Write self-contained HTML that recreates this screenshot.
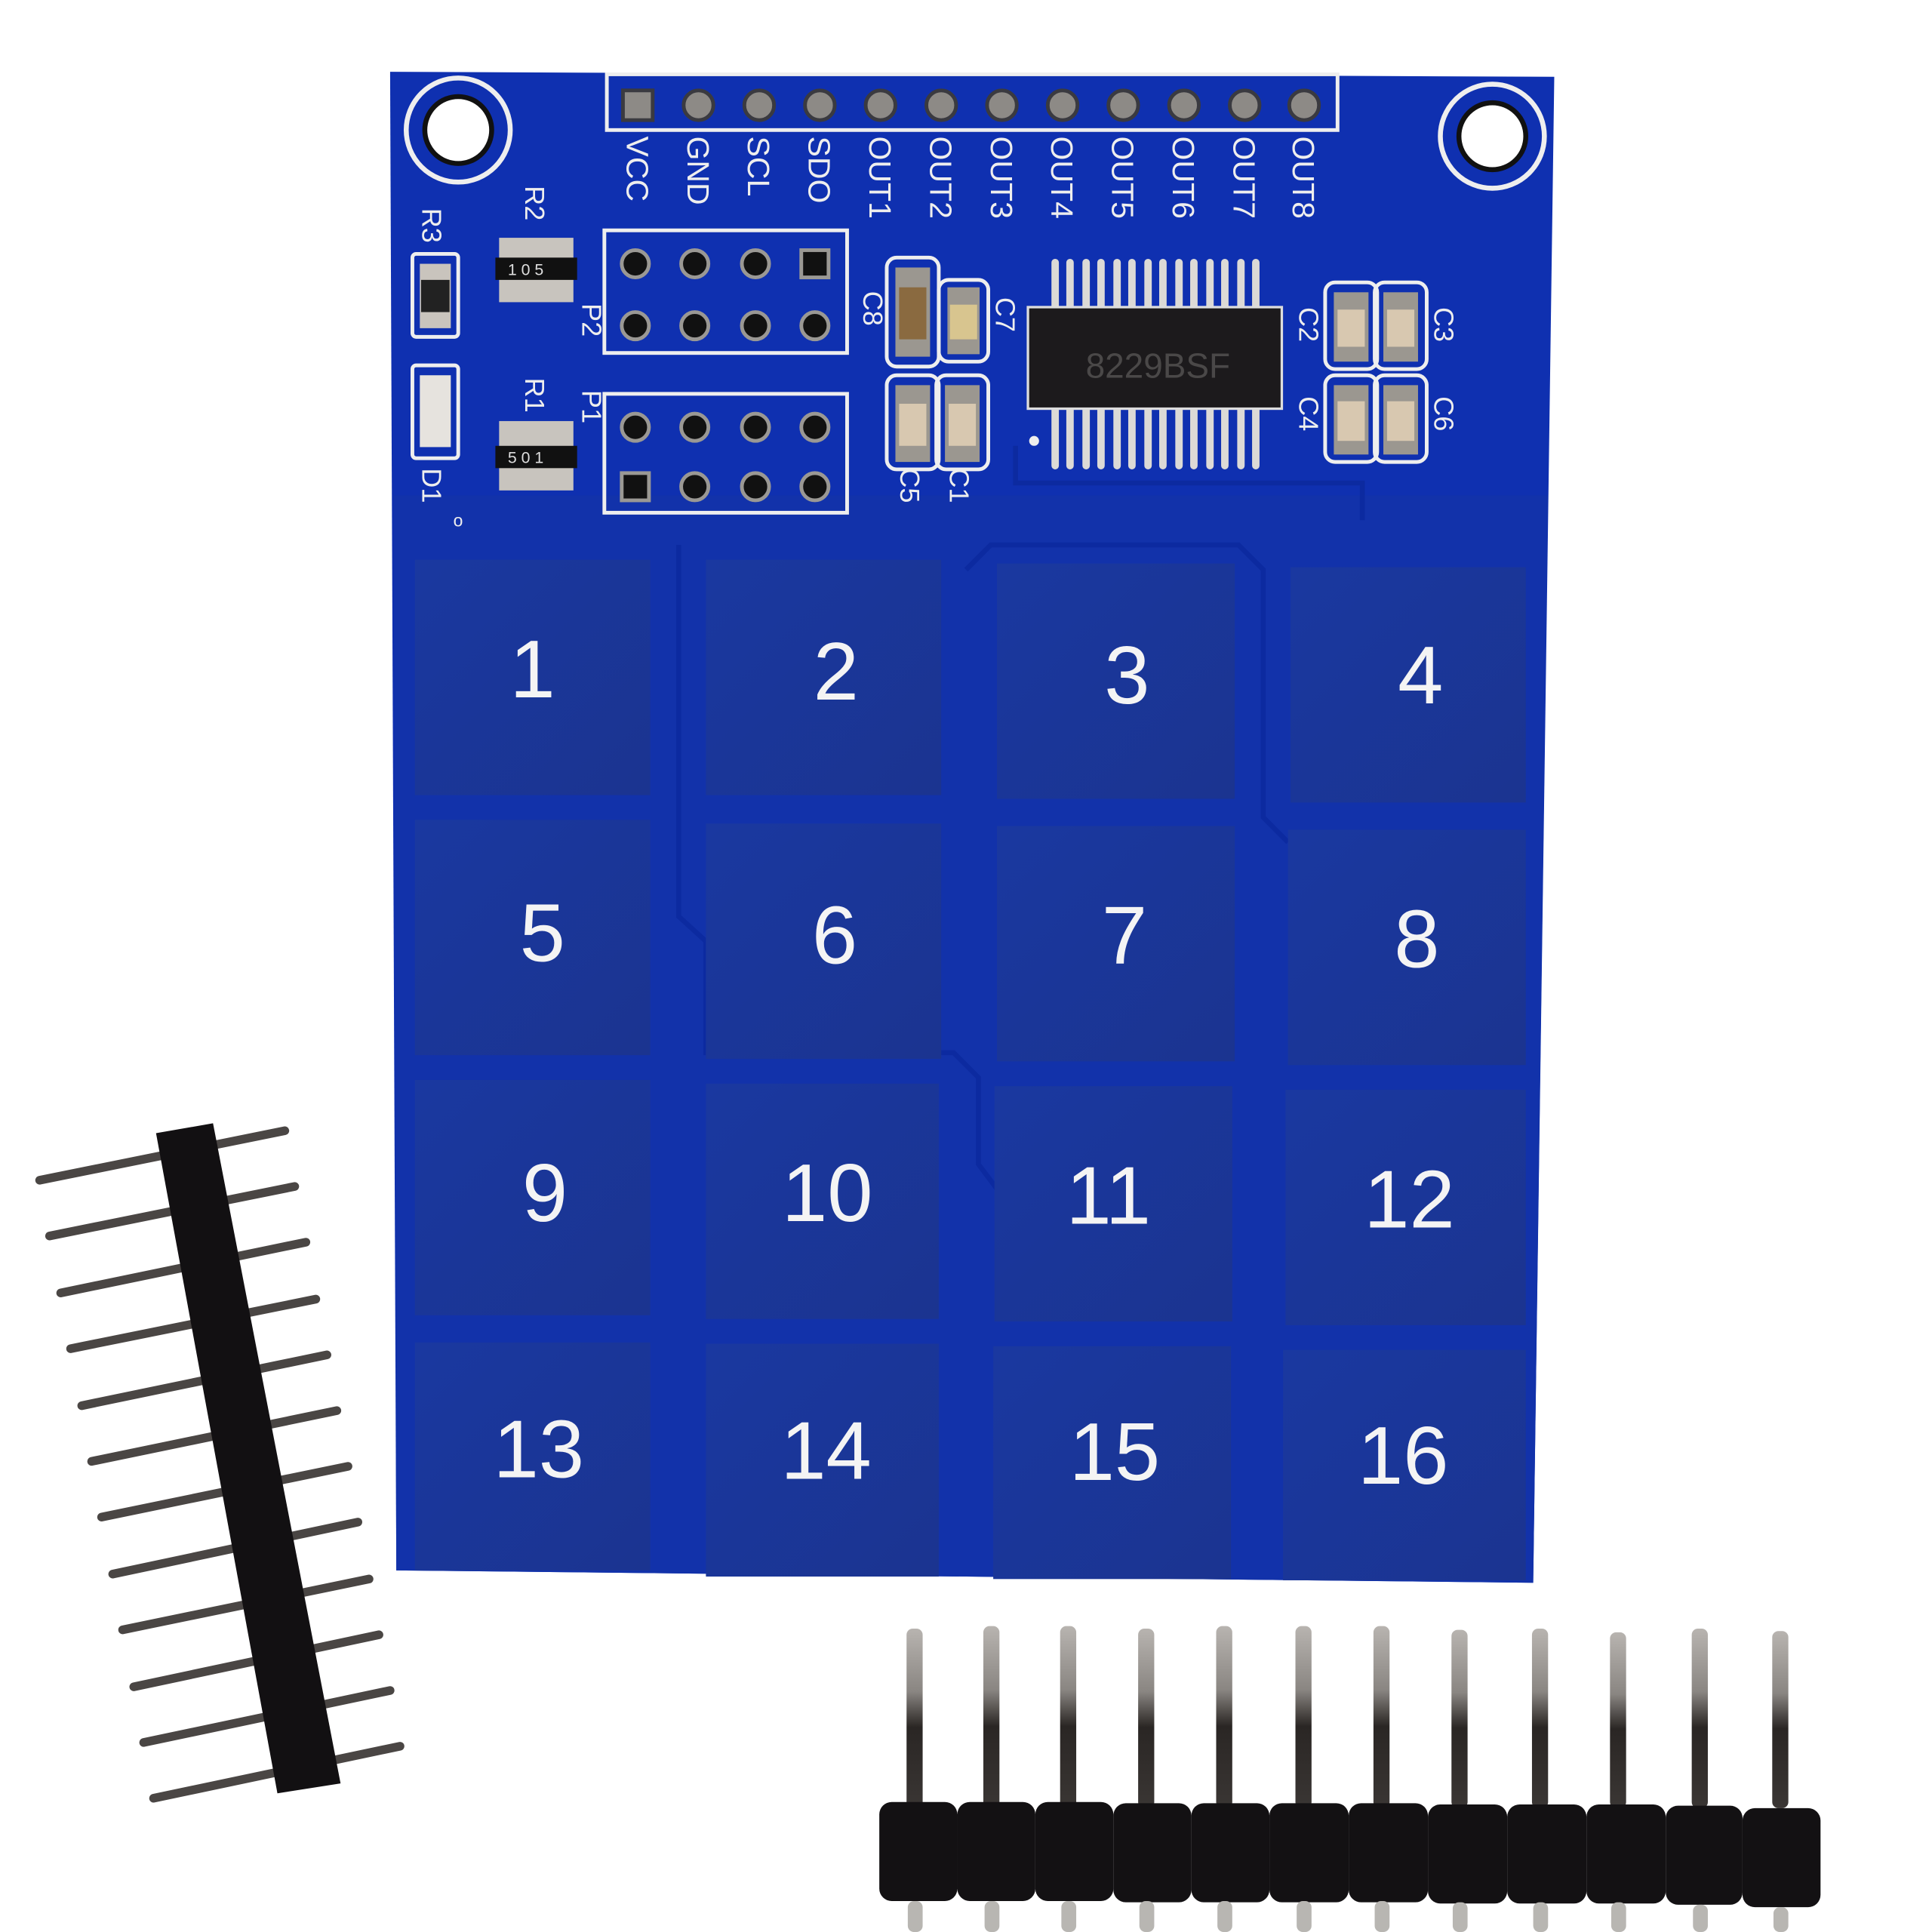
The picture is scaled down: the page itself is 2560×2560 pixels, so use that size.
<!DOCTYPE html>
<html><head><meta charset="utf-8"><style>html,body{margin:0;padding:0;background:#fff}svg{display:block}</style></head>
<body>
<svg width="2560" height="2560" viewBox="0 0 1560 1560" xmlns="http://www.w3.org/2000/svg" font-family="Liberation Sans, sans-serif">
<defs>
<linearGradient id="pad" x1="0" y1="0" x2="1" y2="1"><stop offset="0" stop-color="#1a38a0"/><stop offset="1" stop-color="#1b3490"/></linearGradient>
<linearGradient id="pin" x1="0" y1="0" x2="0" y2="1"><stop offset="0" stop-color="#b8b4b0"/><stop offset="0.35" stop-color="#8a8682"/><stop offset="0.55" stop-color="#2a2624"/><stop offset="1" stop-color="#3a3634"/></linearGradient>
<linearGradient id="pinb" x1="0" y1="0" x2="0" y2="1"><stop offset="0" stop-color="#555"/><stop offset="1" stop-color="#c8c6c2"/></linearGradient>
</defs>
<polygon points="315,58 1255,62 1238,1278 320,1268" fill="#0f30b0"/>
<polygon points="318,400 1250,400 1238,1278 320,1268" fill="#1232aa"/>
<g fill="none" stroke="#0c2aa0" stroke-width="4">
<path d="M548,440 V740 L570,760 V850 H770 L790,870 V940 L805,960"/>
<path d="M780,460 L800,440 H1000 L1020,460 V660 L1040,680"/>
<path d="M820,360 V390 H1100 V420"/>
</g>
<g fill="url(#pad)">
<rect x="335" y="452" width="190" height="190"/><rect x="570" y="452" width="190" height="190"/><rect x="805" y="455" width="192" height="190"/><rect x="1042" y="458" width="190" height="190"/>
<rect x="335" y="662" width="190" height="190"/><rect x="570" y="665" width="190" height="190"/><rect x="805" y="667" width="192" height="190"/><rect x="1040" y="670" width="192" height="190"/>
<rect x="335" y="872" width="190" height="190"/><rect x="570" y="875" width="188" height="190"/><rect x="803" y="877" width="192" height="190"/><rect x="1038" y="880" width="194" height="190"/>
<rect x="335" y="1084" width="190" height="184"/><rect x="570" y="1085" width="188" height="188"/><rect x="802" y="1087" width="192" height="188"/><rect x="1036" y="1090" width="196" height="186"/>
</g>
<g fill="#f4f4f4" font-size="66" text-anchor="middle">
<text x="430" y="563">1</text><text x="675" y="565">2</text><text x="910" y="568">3</text><text x="1147" y="568">4</text>
<text x="438" y="776">5</text><text x="674" y="778">6</text><text x="908" y="778">7</text><text x="1144" y="781">8</text>
<text x="440" y="986">9</text><text x="668" y="986">10</text><text x="895" y="988">11</text><text x="1138" y="991">12</text>
<text x="435" y="1193">13</text><text x="667" y="1194">14</text><text x="900" y="1195">15</text><text x="1133" y="1198">16</text>
</g>
<circle cx="370" cy="105" r="42" fill="none" stroke="#eee" stroke-width="4"/><circle cx="370" cy="105" r="27" fill="#fff" stroke="#111" stroke-width="4"/>
<circle cx="1205" cy="110" r="42" fill="none" stroke="#eee" stroke-width="4"/><circle cx="1205" cy="110" r="27" fill="#fff" stroke="#111" stroke-width="4"/>
<rect x="490" y="60" width="590" height="45" fill="none" stroke="#eee" stroke-width="3"/>
<g fill="#8d8a86" stroke="#3a3a40" stroke-width="3">
<rect x="503" y="73" width="24" height="24"/>
<circle cx="564" cy="85" r="12"/><circle cx="613" cy="85" r="12"/><circle cx="662" cy="85" r="12"/><circle cx="711" cy="85" r="12"/><circle cx="760" cy="85" r="12"/><circle cx="809" cy="85" r="12"/><circle cx="858" cy="85" r="12"/><circle cx="907" cy="85" r="12"/><circle cx="956" cy="85" r="12"/><circle cx="1005" cy="85" r="12"/><circle cx="1053" cy="85" r="12"/>
</g>
<g fill="#eee" font-size="25">
<text transform="translate(506,110) rotate(90)">VCC</text><text transform="translate(555,110) rotate(90)">GND</text><text transform="translate(604,110) rotate(90)">SCL</text><text transform="translate(653,110) rotate(90)">SDO</text>
<text transform="translate(702,110) rotate(90)">OUT1</text><text transform="translate(751,110) rotate(90)">OUT2</text><text transform="translate(800,110) rotate(90)">OUT3</text><text transform="translate(849,110) rotate(90)">OUT4</text>
<text transform="translate(898,110) rotate(90)">OUT5</text><text transform="translate(947,110) rotate(90)">OUT6</text><text transform="translate(996,110) rotate(90)">OUT7</text><text transform="translate(1044,110) rotate(90)">OUT8</text>
</g>
<rect x="488" y="186" width="196" height="99" fill="none" stroke="#eee" stroke-width="3"/>
<rect x="488" y="318" width="196" height="96" fill="none" stroke="#eee" stroke-width="3"/>
<g fill="#111" stroke="#9a9894" stroke-width="3">
<circle cx="513" cy="213" r="11"/><circle cx="561" cy="213" r="11"/><circle cx="610" cy="213" r="11"/><rect x="647" y="202" width="22" height="22"/>
<circle cx="513" cy="263" r="11"/><circle cx="561" cy="263" r="11"/><circle cx="610" cy="263" r="11"/><circle cx="658" cy="263" r="11"/>
<circle cx="513" cy="345" r="11"/><circle cx="561" cy="345" r="11"/><circle cx="610" cy="345" r="11"/><circle cx="658" cy="345" r="11"/>
<rect x="502" y="382" width="22" height="22"/><circle cx="561" cy="393" r="11"/><circle cx="610" cy="393" r="11"/><circle cx="658" cy="393" r="11"/>
</g>
<rect x="333" y="205" width="37" height="67" rx="3" fill="none" stroke="#eee" stroke-width="3"/>
<rect x="339" y="213" width="25" height="52" fill="#c9c4bd"/><rect x="340" y="226" width="23" height="26" fill="#222"/>
<rect x="333" y="295" width="37" height="75" rx="3" fill="none" stroke="#eee" stroke-width="3"/>
<rect x="339" y="303" width="25" height="58" fill="#e6e3de"/>
<g fill="#c8c4be"><rect x="403" y="192" width="60" height="52"/><rect x="403" y="340" width="60" height="56"/></g>
<rect x="400" y="208" width="66" height="18" fill="#111"/><rect x="400" y="360" width="66" height="18" fill="#111"/>
<g fill="#ddd" font-size="13"><text x="410" y="222">1 0 5</text><text x="410" y="374">5 0 1</text></g>
<g fill="none" stroke="#eee" stroke-width="3">
<rect x="716" y="208" width="42" height="88" rx="8"/><rect x="758" y="226" width="40" height="66" rx="8"/>
<rect x="716" y="303" width="42" height="76" rx="8"/><rect x="756" y="303" width="42" height="76" rx="8"/>
<rect x="1070" y="228" width="42" height="70" rx="8"/><rect x="1110" y="228" width="42" height="70" rx="8"/>
<rect x="1070" y="303" width="42" height="70" rx="8"/><rect x="1110" y="303" width="42" height="70" rx="8"/>
</g>
<g fill="#9b9790"><rect x="723" y="216" width="28" height="72"/><rect x="765" y="232" width="26" height="54"/><rect x="723" y="311" width="28" height="62"/><rect x="763" y="311" width="28" height="62"/>
<rect x="1077" y="236" width="28" height="56"/><rect x="1117" y="236" width="28" height="56"/><rect x="1077" y="311" width="28" height="56"/><rect x="1117" y="311" width="28" height="56"/></g>
<g fill="#d8c8b0"><rect x="726" y="232" width="22" height="42" fill="#8a6a40"/><rect x="767" y="246" width="22" height="28" fill="#d8c58f"/><rect x="726" y="326" width="22" height="34"/><rect x="766" y="326" width="22" height="34"/>
<rect x="1080" y="250" width="22" height="30"/><rect x="1120" y="250" width="22" height="30"/><rect x="1080" y="324" width="22" height="32"/><rect x="1120" y="324" width="22" height="32"/></g>
<g stroke="#dcdad6" stroke-width="6" stroke-linecap="round">
<path d="M852,212V250M864,212V250M877,212V250M889,212V250M902,212V250M914,212V250M927,212V250M939,212V250M952,212V250M964,212V250M977,212V250M989,212V250M1002,212V250M1014,212V250"/>
<path d="M852,328V376M864,328V376M877,328V376M889,328V376M902,328V376M914,328V376M927,328V376M939,328V376M952,328V376M964,328V376M977,328V376M989,328V376M1002,328V376M1014,328V376"/>
</g>
<rect x="830" y="248" width="205" height="82" fill="#1c1a1c" stroke="#ddd" stroke-width="2"/>
<text x="935" y="305" font-size="28" fill="#4a4848" text-anchor="middle">8229BSF</text>
<circle cx="835" cy="356" r="4" fill="#eee"/>
<g fill="#eee" font-size="22">
<text transform="translate(341,168) rotate(90)">R3</text><text transform="translate(424,150) rotate(90)">R2</text><text transform="translate(424,305) rotate(90)">R1</text>
<text transform="translate(341,378) rotate(90)">D1</text><text x="366" y="425" font-size="14">o</text>
<text transform="translate(470,245) rotate(90)">P2</text><text transform="translate(470,315) rotate(90)">P1</text>
<text transform="translate(697,235) rotate(90)">C8</text><text transform="translate(804,240) rotate(90)">C7</text>
<text transform="translate(727,378) rotate(90)">C5</text><text transform="translate(767,378) rotate(90)">C1</text>
<text transform="translate(1049,248) rotate(90)">C2</text><text transform="translate(1158,248) rotate(90)">C3</text>
<text transform="translate(1049,320) rotate(90)">C4</text><text transform="translate(1158,320) rotate(90)">C6</text>
</g>
<g stroke="#4a4644" stroke-width="7" stroke-linecap="round">
<line x1="32" y1="953" x2="230" y2="913"/><line x1="40" y1="998" x2="238" y2="958"/><line x1="49" y1="1044" x2="247" y2="1003"/><line x1="57" y1="1089" x2="255" y2="1049"/>
<line x1="66" y1="1135" x2="264" y2="1094"/><line x1="74" y1="1180" x2="272" y2="1139"/><line x1="82" y1="1225" x2="281" y2="1184"/><line x1="91" y1="1271" x2="289" y2="1229"/>
<line x1="99" y1="1316" x2="298" y2="1275"/><line x1="108" y1="1362" x2="306" y2="1320"/><line x1="116" y1="1407" x2="315" y2="1365"/><line x1="124" y1="1452" x2="323" y2="1410"/>
</g>
<polygon points="126,915 172,907 275,1440 224,1448" fill="#121012"/>
<g fill="url(#pin)">
<rect x="732" y="1315" width="13" height="145" rx="5"/><rect x="794" y="1313" width="13" height="147" rx="5"/><rect x="856" y="1313" width="13" height="147" rx="5"/><rect x="919" y="1315" width="13" height="145" rx="5"/>
<rect x="982" y="1313" width="13" height="147" rx="5"/><rect x="1046" y="1313" width="13" height="147" rx="5"/><rect x="1109" y="1313" width="13" height="147" rx="5"/><rect x="1172" y="1316" width="13" height="144" rx="5"/>
<rect x="1237" y="1315" width="13" height="145" rx="5"/><rect x="1300" y="1318" width="13" height="142" rx="5"/><rect x="1366" y="1315" width="13" height="145" rx="5"/><rect x="1431" y="1317" width="13" height="143" rx="5"/>
</g>
<g fill="#131113">
<rect x="710" y="1455" width="63" height="80" rx="10"/><rect x="773" y="1455" width="63" height="80" rx="10"/><rect x="836" y="1455" width="63" height="80" rx="10"/><rect x="899" y="1456" width="63" height="80" rx="10"/>
<rect x="962" y="1456" width="63" height="80" rx="10"/><rect x="1025" y="1456" width="64" height="80" rx="10"/><rect x="1089" y="1456" width="64" height="80" rx="10"/><rect x="1153" y="1457" width="64" height="80" rx="10"/>
<rect x="1217" y="1457" width="64" height="80" rx="10"/><rect x="1281" y="1457" width="64" height="80" rx="10"/><rect x="1345" y="1458" width="62" height="80" rx="10"/><rect x="1407" y="1460" width="63" height="80" rx="10"/>
</g>
<g fill="#b8b6b2">
<rect x="733" y="1535" width="12" height="25" rx="5"/><rect x="795" y="1535" width="12" height="25" rx="5"/><rect x="857" y="1535" width="12" height="25" rx="5"/><rect x="920" y="1535" width="12" height="25" rx="5"/>
<rect x="983" y="1535" width="12" height="25" rx="5"/><rect x="1047" y="1535" width="12" height="25" rx="5"/><rect x="1110" y="1535" width="12" height="25" rx="5"/><rect x="1173" y="1536" width="12" height="24" rx="5"/>
<rect x="1238" y="1536" width="12" height="24" rx="5"/><rect x="1301" y="1536" width="12" height="24" rx="5"/><rect x="1367" y="1538" width="12" height="22" rx="5"/><rect x="1432" y="1540" width="12" height="20" rx="5"/>
</g>
</svg>
</body></html>
